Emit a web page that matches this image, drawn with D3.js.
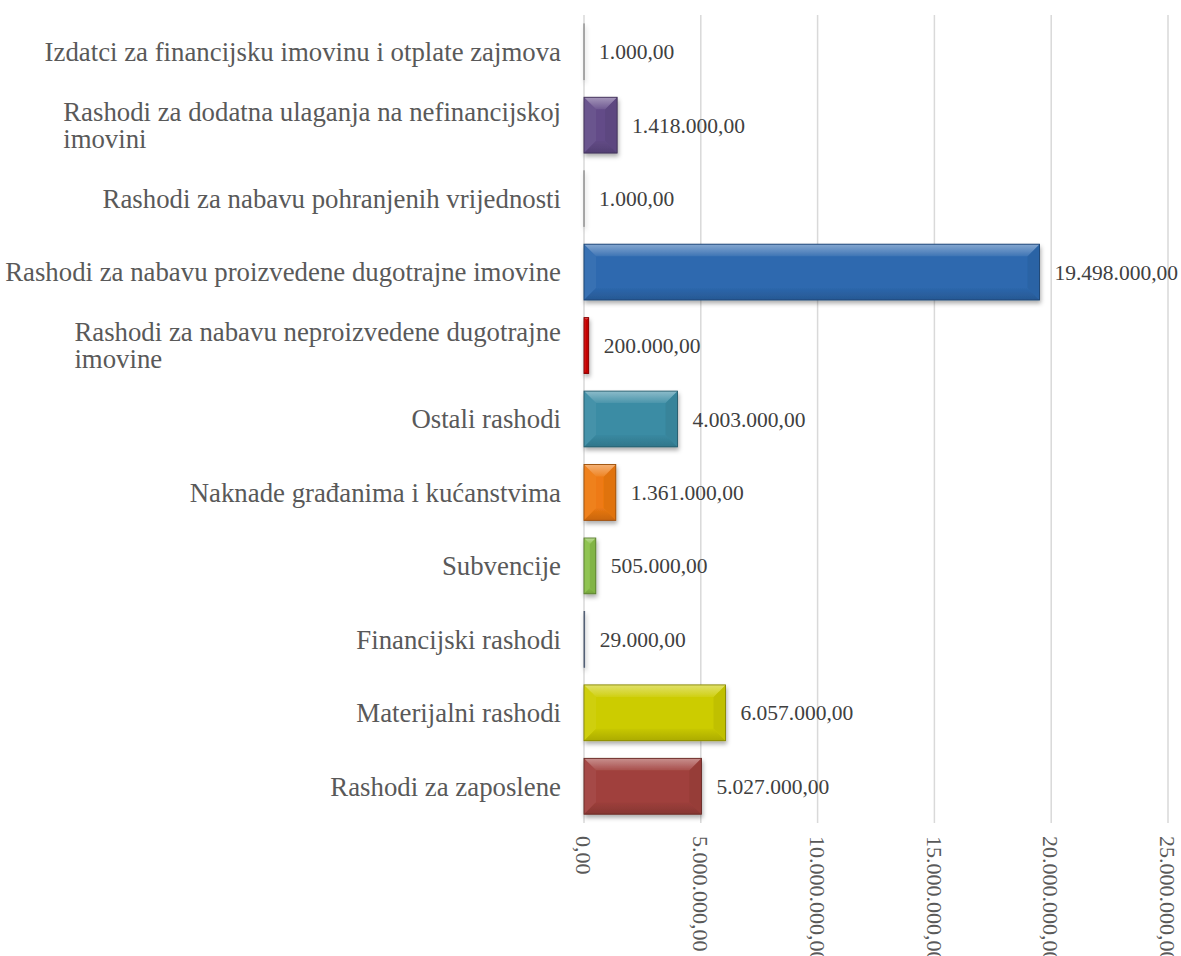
<!DOCTYPE html>
<html>
<head>
<meta charset="utf-8">
<script src="https://cdn.jsdelivr.net/npm/d3@7"></script>
<style>
  html, body { margin: 0; padding: 0; background: #ffffff; }
  svg { display: block; }
</style>
</head>
<body>
<script>
// ---- data (bottom to top, as in the source chart) ----
const categories = [
  "Rashodi za zaposlene",
  "Materijalni rashodi",
  "Financijski rashodi",
  "Subvencije",
  "Naknade građanima i kućanstvima",
  "Ostali rashodi",
  "Rashodi za nabavu neproizvedene dugotrajne\nimovine",
  "Rashodi za nabavu proizvedene dugotrajne imovine",
  "Rashodi za nabavu pohranjenih vrijednosti",
  "Rashodi za dodatna ulaganja na nefinancijskoj\nimovini",
  "Izdatci za financijsku imovinu i otplate zajmova"
];
const values = [5027000, 6057000, 29000, 505000, 1361000, 4003000, 200000, 19498000, 1000, 1418000, 1000];
const barColors = ["#A0403C", "#CCCC00", "#7E93B5", "#89C048", "#EE7A12", "#3A8CA4", "#CC0000", "#2E69AF", "#A8A8A8", "#634B88", "#A8A8A8"];
const tickValues = [0, 5000000, 10000000, 15000000, 20000000, 25000000];

// ---- layout ----
const W = 1181, H = 956;
const serif = "'Liberation Serif', 'Times New Roman', serif";
const locale = d3.formatLocale({decimal: ",", thousands: ".", grouping: [3], currency: ["", ""]});
const fmt = locale.format(",.2f");

const svg = d3.select("body").append("svg").attr("width", W).attr("height", H);

const defs = svg.append("defs");
const f = defs.append("filter").attr("id", "shadow")
  .attr("x", "-20%").attr("y", "-20%").attr("width", "140%").attr("height", "160%");
f.append("feDropShadow").attr("dx", 1).attr("dy", 3).attr("stdDeviation", 2.2)
  .attr("flood-color", "#000").attr("flood-opacity", 0.32);

const x = d3.scaleLinear().domain([0, 25000000]).range([584, 1168]);
const idx = d3.range(categories.length).reverse(); // top to bottom
const y = d3.scaleBand().domain(idx).range([15, 823]).paddingInner(0.24).paddingOuter(0.12);

// gridlines
svg.append("g").selectAll("line").data(tickValues).join("line")
  .attr("x1", d => x(d)).attr("x2", d => x(d))
  .attr("y1", 15).attr("y2", 823)
  .attr("stroke", "#D9D9D9").attr("stroke-width", 1.5);

// tick labels (rotated)
svg.append("g").selectAll("text").data(tickValues).join("text")
  .attr("transform", d => `translate(${x(d)},836) rotate(90)`)
  .attr("text-anchor", "start")
  .attr("dy", "0.35em")
  .attr("font-family", serif).attr("font-size", 22).attr("fill", "#595959")
  .text(d => fmt(d));

// bars with soft bevel
const bars = svg.append("g").attr("filter", "url(#shadow)");
idx.forEach(i => {
  const x0 = x(0), x1 = x(values[i]);
  const y0 = y(i), y1 = y(i) + y.bandwidth();
  const w = x1 - x0, h = y1 - y0;
  const b = Math.min(12, w / 2, h / 2);
  const lighten = (k) => d3.interpolateRgb(barColors[i], "#ffffff")(k);
  const darken = (k) => d3.interpolateRgb(barColors[i], "#000000")(k);

  const gt = defs.append("linearGradient").attr("id", "gt" + i)
    .attr("gradientUnits", "userSpaceOnUse").attr("x1", 0).attr("x2", 0).attr("y1", y0).attr("y2", y0 + b);
  gt.append("stop").attr("offset", 0).attr("stop-color", lighten(0.42));
  gt.append("stop").attr("offset", 1).attr("stop-color", lighten(0.08));
  const gb = defs.append("linearGradient").attr("id", "gb" + i)
    .attr("gradientUnits", "userSpaceOnUse").attr("x1", 0).attr("x2", 0).attr("y1", y1 - b).attr("y2", y1);
  gb.append("stop").attr("offset", 0).attr("stop-color", darken(0.02));
  gb.append("stop").attr("offset", 1).attr("stop-color", darken(0.16));

  const g = bars.append("g");
  g.append("rect").attr("x", x0).attr("y", y0).attr("width", w).attr("height", h)
    .attr("fill", barColors[i]);
  const poly = (pts, fill) => g.append("polygon")
    .attr("points", pts.map(p => p.join(",")).join(" ")).attr("fill", fill);
  poly([[x0, y0], [x0 + b, y0 + b], [x0 + b, y1 - b], [x0, y1]], lighten(0.05));
  poly([[x1, y0], [x1 - b, y0 + b], [x1 - b, y1 - b], [x1, y1]], darken(0.06));
  poly([[x0, y0], [x1, y0], [x1 - b, y0 + b], [x0 + b, y0 + b]], `url(#gt${i})`);
  poly([[x0, y1], [x1, y1], [x1 - b, y1 - b], [x0 + b, y1 - b]], `url(#gb${i})`);
  g.append("rect").attr("x", x0).attr("y", y0).attr("width", w).attr("height", h)
    .attr("fill", "none").attr("stroke", darken(0.35)).attr("stroke-width", 0.9);
});

// value labels
svg.append("g").selectAll("text").data(idx).join("text")
  .attr("x", i => x(values[i]) + 15)
  .attr("y", i => y(i) + y.bandwidth() / 2)
  .attr("dy", "0.35em")
  .attr("font-family", serif).attr("font-size", 21.5).attr("fill", "#404040")
  .text(i => fmt(values[i]));

// category labels
const labelRight = 561, lineH = 27;
const lg = svg.append("g");
idx.forEach(i => {
  const lines = categories[i].split("\n");
  const cy = y(i) + y.bandwidth() / 2;
  const t = lg.append("text")
    .attr("font-family", serif).attr("font-size", 26.8).attr("fill", "#595959");
  const spans = lines.map((ln, k) => t.append("tspan")
    .attr("y", cy + (k - (lines.length - 1) / 2) * lineH)
    .attr("dy", "0.35em").text(ln));
  const maxW = d3.max(spans, s => s.node().getComputedTextLength());
  spans.forEach(s => s.attr("x", labelRight - maxW));
});
</script>
</body>
</html>
